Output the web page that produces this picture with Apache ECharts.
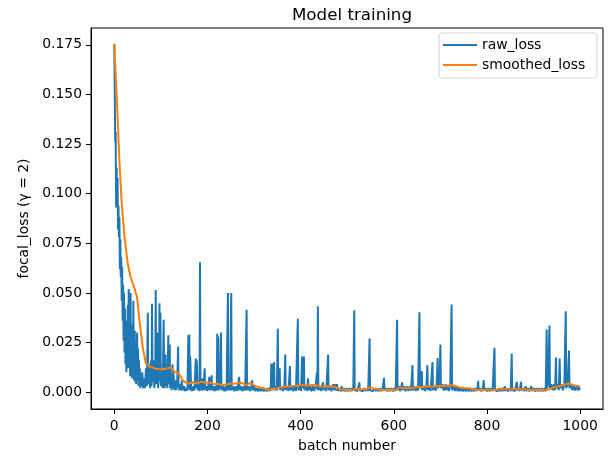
<!DOCTYPE html>
<html>
<head>
<meta charset="utf-8">
<script src="https://cdn.jsdelivr.net/npm/echarts@6/dist/echarts.min.js"></script>
<style>
    html, body { margin: 0; padding: 0; background: #fff; }
    #chart { width: 610px; height: 459px; }
</style>
</head>
<body>
<div id="chart"></div>
<script>
// raw focal loss per batch, [batch, loss]
var rawLoss = [
    [0, 0.1755], [1, 0.152], [2, 0.126], [3, 0.131], [4, 0.093], [5, 0.113], [6, 0.098], [7, 0.108],
    [8, 0.082], [9, 0.094], [10, 0.078], [11, 0.088], [12, 0.062], [13, 0.077], [14, 0.058], [15, 0.068],
    [16, 0.046], [17, 0.063], [18, 0.036], [19, 0.054], [20, 0.026], [21, 0.050], [22, 0.020], [23, 0.042],
    [24, 0.014], [25, 0.036], [26, 0.010], [27, 0.032], [28, 0.016], [29, 0.044], [30, 0.012], [31, 0.052],
    [32, 0.018], [33, 0.038], [34, 0.008], [35, 0.050], [36, 0.014], [37, 0.028], [38, 0.007], [39, 0.034],
    [40, 0.010], [41, 0.046], [42, 0.006], [43, 0.017], [44, 0.031], [45, 0.005], [46, 0.024], [47, 0.004],
    [48, 0.016], [49, 0.030], [50, 0.006], [51, 0.022], [52, 0.003], [53, 0.016], [54, 0.004], [55, 0.012],
    [56, 0.002], [57, 0.009], [59, 0.003], [60, 0.010], [62, 0.002], [64, 0.007], [66, 0.002], [68, 0.012],
    [70, 0.003], [72, 0.040], [73, 0.004], [75, 0.014], [77, 0.002], [79, 0.016], [80, 0.003], [81, 0.0445],
    [82, 0.005], [84, 0.016], [86, 0.002], [88, 0.012], [89, 0.0515], [90, 0.004], [92, 0.014], [93, 0.030],
    [94, 0.002], [96, 0.010], [97, 0.0448], [98, 0.006], [99, 0.040], [100, 0.003], [102, 0.012], [104, 0.002],
    [106, 0.0365], [107, 0.010], [108, 0.002], [110, 0.019], [111, 0.003], [113, 0.010], [114, 0.002], [116, 0.0286],
    [117, 0.004], [119, 0.024], [120, 0.002], [122, 0.008], [123, 0.001], [125, 0.014], [126, 0.002], [127, 0.010],
    [129, 0.001], [131, 0.006], [133, 0.001], [135, 0.004], [137, 0.023], [138, 0.003], [140, 0.001], [142, 0.004],
    [143, 0.0008], [145, 0.006], [147, 0.001], [150, 0.003], [152, 0.0005], [155, 0.002], [157, 0.0008], [159, 0.0286],
    [160, 0.002], [161, 0.029], [162, 0.001], [163, 0.018], [165, 0.002], [167, 0.0006], [170, 0.003], [172, 0.0008],
    [175, 0.017], [176, 0.002], [177, 0.016], [179, 0.001], [181, 0.003], [183, 0.0006], [184, 0.0654], [185, 0.001],
    [187, 0.003], [189, 0.007], [190, 0.0008], [192, 0.003], [194, 0.012], [195, 0.001], [198, 0.003], [200, 0.0006],
    [202, 0.004], [204, 0.0077], [205, 0.001], [207, 0.003], [209, 0.0085], [210, 0.0008], [213, 0.003], [215, 0.0005],
    [218, 0.003], [220, 0.0008], [221, 0.0294], [222, 0.003], [223, 0.028], [224, 0.001], [227, 0.003], [229, 0.030],
    [230, 0.001], [233, 0.003], [236, 0.0005], [239, 0.003], [241, 0.0006], [244, 0.050], [245, 0.001], [247, 0.004],
    [249, 0.0008], [251, 0.050], [252, 0.001], [255, 0.003], [258, 0.0005], [261, 0.003], [264, 0.0006], [266, 0.004],
    [268, 0.0077], [269, 0.001], [272, 0.003], [275, 0.0005], [278, 0.003], [281, 0.0008], [284, 0.0415], [285, 0.001],
    [288, 0.003], [291, 0.0006], [294, 0.003], [296, 0.006], [297, 0.0008], [300, 0.003], [303, 0.0005], [306, 0.002],
    [309, 0.0004], [312, 0.002], [315, 0.0005], [318, 0.002], [321, 0.0004], [324, 0.002], [327, 0.0004], [330, 0.002],
    [333, 0.0005], [336, 0.003], [337, 0.0144], [338, 0.002], [339, 0.014], [340, 0.003], [341, 0.0144], [342, 0.002],
    [343, 0.0152], [344, 0.001], [347, 0.003], [349, 0.0008], [351, 0.032], [352, 0.002], [355, 0.012], [356, 0.001],
    [359, 0.003], [362, 0.0006], [365, 0.003], [367, 0.019], [368, 0.001], [371, 0.003], [374, 0.0006], [377, 0.0132],
    [378, 0.001], [381, 0.003], [384, 0.0005], [387, 0.003], [390, 0.0006], [394, 0.037], [395, 0.001], [398, 0.003],
    [401, 0.0006], [403, 0.018], [404, 0.002], [407, 0.018], [408, 0.001], [411, 0.003], [414, 0.0006], [416, 0.007],
    [417, 0.001], [420, 0.003], [423, 0.0005], [426, 0.003], [429, 0.0006], [432, 0.003], [435, 0.010], [436, 0.001],
    [437, 0.0433], [438, 0.001], [441, 0.003], [444, 0.0006], [448, 0.005], [449, 0.001], [452, 0.003], [455, 0.0006],
    [459, 0.019], [460, 0.001], [463, 0.003], [466, 0.0005], [470, 0.004], [472, 0.001], [474, 0.004], [476, 0.0008],
    [478, 0.004], [480, 0.0006], [483, 0.002], [486, 0.0005], [488, 0.003], [490, 0.0005], [493, 0.002], [496, 0.0004],
    [499, 0.002], [502, 0.0004], [505, 0.002], [508, 0.0005], [511, 0.002], [513, 0.0006], [515, 0.0412], [516, 0.001],
    [519, 0.002], [522, 0.0005], [526, 0.005], [527, 0.001], [530, 0.002], [533, 0.0004], [536, 0.002], [539, 0.0005],
    [542, 0.002], [545, 0.0006], [548, 0.027], [549, 0.001], [552, 0.002], [555, 0.0004], [558, 0.002], [561, 0.0005],
    [564, 0.002], [567, 0.0004], [570, 0.002], [573, 0.0005], [576, 0.002], [579, 0.0072], [580, 0.0008], [583, 0.002],
    [586, 0.0004], [589, 0.002], [592, 0.0005], [595, 0.002], [598, 0.0004], [601, 0.002], [604, 0.0006], [607, 0.0365],
    [608, 0.001], [611, 0.003], [614, 0.0005], [618, 0.005], [619, 0.001], [622, 0.003], [625, 0.0005], [628, 0.003],
    [631, 0.0006], [634, 0.003], [637, 0.0008], [640, 0.0136], [641, 0.001], [644, 0.003], [647, 0.0006], [650, 0.003],
    [652, 0.0008], [655, 0.0403], [656, 0.002], [658, 0.004], [660, 0.0106], [661, 0.001], [664, 0.003], [667, 0.0006],
    [670, 0.003], [672, 0.0136], [673, 0.001], [676, 0.003], [679, 0.0006], [683, 0.0152], [684, 0.001], [687, 0.003],
    [690, 0.0008], [692, 0.004], [694, 0.0172], [695, 0.002], [698, 0.004], [700, 0.024], [701, 0.002], [704, 0.004],
    [707, 0.0008], [711, 0.004], [712, 0.001], [715, 0.003], [718, 0.0006], [721, 0.003], [724, 0.0442], [725, 0.001],
    [728, 0.003], [731, 0.0006], [734, 0.003], [737, 0.0005], [740, 0.002], [743, 0.0005], [746, 0.002], [749, 0.0004],
    [752, 0.002], [755, 0.0004], [758, 0.002], [761, 0.0004], [764, 0.002], [767, 0.0004], [770, 0.002], [773, 0.0004],
    [776, 0.002], [779, 0.0005], [781, 0.0057], [782, 0.0008], [785, 0.002], [788, 0.0004], [791, 0.002], [793, 0.006],
    [794, 0.0008], [797, 0.002], [800, 0.0004], [803, 0.002], [806, 0.0004], [809, 0.002], [812, 0.0005], [816, 0.0224],
    [817, 0.001], [820, 0.002], [823, 0.0004], [826, 0.002], [829, 0.0004], [832, 0.002], [835, 0.0005], [838, 0.003],
    [839, 0.0006], [842, 0.002], [845, 0.0004], [848, 0.002], [851, 0.0005], [853, 0.0194], [854, 0.001], [857, 0.002],
    [860, 0.0005], [864, 0.0052], [865, 0.0008], [868, 0.002], [870, 0.0005], [873, 0.0052], [874, 0.0008], [877, 0.002],
    [880, 0.0005], [883, 0.003], [885, 0.0005], [888, 0.002], [891, 0.0004], [895, 0.003], [897, 0.0005], [900, 0.002],
    [903, 0.0004], [906, 0.002], [909, 0.0004], [912, 0.002], [915, 0.0004], [918, 0.002], [921, 0.0004], [924, 0.002],
    [926, 0.0005], [928, 0.0316], [929, 0.002], [931, 0.004], [934, 0.0336], [935, 0.002], [938, 0.004], [941, 0.001],
    [944, 0.004], [946, 0.001], [948, 0.0174], [949, 0.002], [952, 0.004], [954, 0.001], [956, 0.017], [957, 0.002],
    [960, 0.004], [963, 0.001], [966, 0.004], [969, 0.0407], [970, 0.002], [973, 0.004], [976, 0.021], [977, 0.002],
    [980, 0.004], [983, 0.001], [986, 0.003], [989, 0.0008], [992, 0.003], [995, 0.0008], [997, 0.003], [999, 0.001]
];

// smoothed loss
var smoothedLoss = [
    [0, 0.1755], [3, 0.160], [6, 0.145], [11, 0.1165], [16, 0.095], [22, 0.078], [29, 0.0646], [35, 0.058],
    [40, 0.0546], [45, 0.051], [49, 0.0478], [54, 0.036], [61, 0.0227], [68, 0.0144], [75, 0.013], [79, 0.0127],
    [90, 0.0118], [100, 0.0114], [110, 0.0118], [115, 0.012], [122, 0.0124], [126, 0.0122], [130, 0.0102], [136, 0.0095],
    [141, 0.0085], [147, 0.006], [152, 0.005], [157, 0.0043], [161, 0.0042], [170, 0.0048], [178, 0.0045], [185, 0.0052],
    [195, 0.0049], [207, 0.0047], [215, 0.004], [222, 0.0042], [232, 0.0035], [240, 0.0038], [250, 0.0043], [258, 0.0042],
    [270, 0.0047], [278, 0.0042], [284, 0.0035], [291, 0.0047], [297, 0.0038], [305, 0.0028], [315, 0.0022], [325, 0.0016],
    [333, 0.0011], [340, 0.0014], [348, 0.0019], [358, 0.0024], [369, 0.0028], [380, 0.003], [390, 0.0032], [398, 0.0035],
    [410, 0.0035], [418, 0.0033], [425, 0.0036], [433, 0.0035], [440, 0.003], [450, 0.0028], [460, 0.003], [470, 0.0028],
    [478, 0.0022], [484, 0.0015], [495, 0.0012], [505, 0.0011], [512, 0.0011], [520, 0.0016], [530, 0.0015], [540, 0.0014],
    [549, 0.0024], [556, 0.0018], [565, 0.0014], [576, 0.0011], [590, 0.0011], [598, 0.0011], [606, 0.0013], [612, 0.0023],
    [620, 0.002], [630, 0.0019], [640, 0.0022], [648, 0.0024], [655, 0.0026], [662, 0.0026], [670, 0.0028], [680, 0.0029],
    [690, 0.003], [700, 0.0032], [710, 0.0031], [718, 0.0033], [724, 0.0035], [730, 0.0033], [741, 0.0024], [750, 0.0021],
    [762, 0.0019], [770, 0.0015], [776, 0.0011], [790, 0.0011], [800, 0.001], [811, 0.0011], [820, 0.0012], [830, 0.0014],
    [840, 0.0015], [850, 0.0014], [860, 0.0016], [870, 0.0015], [880, 0.0013], [890, 0.0012], [900, 0.0011], [910, 0.0011],
    [920, 0.0011], [926, 0.001], [934, 0.0014], [940, 0.0021], [948, 0.0028], [955, 0.003], [962, 0.0035], [969, 0.004],
    [976, 0.0043], [983, 0.0038], [990, 0.0033], [997, 0.003], [999, 0.003]
];

var xTicks = [0, 200, 400, 600, 800, 1000];
var yTicks = [0, 0.025, 0.05, 0.075, 0.1, 0.125, 0.15, 0.175];

var FONT = 'DejaVu Sans';
var myChart = echarts.init(document.getElementById('chart'), null, {renderer: 'canvas'});

var option = {
    animation: false,
    backgroundColor: '#fff',
    textStyle: {fontFamily: FONT, color: '#000'},
    title: {
        text: 'Model training',
        left: 347,
        top: 2,
        textAlign: 'center',
        textStyle: {fontFamily: FONT, fontSize: 16.7, fontWeight: 'normal', color: '#000'}
    },
    legend: {
        orient: 'vertical',
        left: 439,
        top: 33,
        padding: [5, 12, 6, 4],
        itemGap: 6,
        itemWidth: 34,
        itemHeight: 2,
        icon: 'rect',
        borderColor: '#d5d5d5',
        borderWidth: 1,
        borderRadius: 3,
        backgroundColor: 'rgba(255,255,255,0.8)',
        textStyle: {fontFamily: FONT, fontSize: 13.9, color: '#000'},
        data: ['raw_loss', 'smoothed_loss']
    },
    grid: {
        left: 91,
        right: 7,
        top: 28,
        bottom: 50,
        show: true,
        borderColor: '#000',
        borderWidth: 1,
        containLabel: false,
        outerBoundsMode: 'none'
    },
    xAxis: {
        type: 'value',
        min: -49.95,
        max: 1048.95,
        name: 'batch number',
        nameLocation: 'middle',
        nameGap: 30,
        nameTextStyle: {fontFamily: FONT, fontSize: 13.9, color: '#000'},
        axisLine: {show: true, onZero: false, lineStyle: {color: '#000', width: 1}},
        axisTick: {show: true, length: 5, customValues: xTicks, lineStyle: {color: '#000'}},
        axisLabel: {
            customValues: xTicks,
            margin: 10,
            fontFamily: FONT,
            fontSize: 13.9,
            color: '#000',
            formatter: function (v) {
                return String(v);
            }
        },
        splitLine: {show: false}
    },
    yAxis: {
        type: 'value',
        min: -0.0085,
        max: 0.1835,
        name: 'focal_loss (\u03b3 = 2)',
        nameLocation: 'middle',
        nameGap: 58,
        nameRotate: 90,
        nameTextStyle: {fontFamily: FONT, fontSize: 13.9, color: '#000'},
        axisLine: {show: true, onZero: false, lineStyle: {color: '#000', width: 1}},
        axisTick: {show: true, length: 5, customValues: yTicks, lineStyle: {color: '#000'}},
        axisLabel: {
            customValues: yTicks,
            margin: 9,
            fontFamily: FONT,
            fontSize: 13.9,
            color: '#000',
            formatter: function (v) {
                return v.toFixed(3);
            }
        },
        splitLine: {show: false}
    },
    series: [
        {
            name: 'raw_loss',
            type: 'line',
            data: rawLoss,
            showSymbol: false,
            symbol: 'none',
            color: '#1f77b4',
            lineStyle: {color: '#1f77b4', width: 2},
            z: 2
        },
        {
            name: 'smoothed_loss',
            type: 'line',
            data: smoothedLoss,
            showSymbol: false,
            symbol: 'none',
            color: '#ff7f0e',
            lineStyle: {color: '#ff7f0e', width: 2},
            z: 3
        }
    ]
};
myChart.setOption(option);
</script>
</body>
</html>
